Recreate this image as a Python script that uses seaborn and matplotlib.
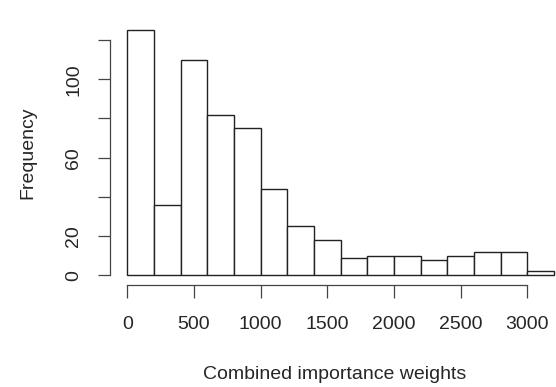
import numpy as np
import pandas as pd
import seaborn as sns
import matplotlib.pyplot as plt

sns.set_theme(style="white")
plt.rcParams["font.family"] = ["Liberation Sans", "DejaVu Sans"]

# histogram of combined importance weights, bin width 200
bin_edges = list(range(0, 3201, 200))
counts = [125, 36, 110, 82, 75, 44, 25, 18, 9, 10, 10, 8, 10, 12, 12, 2]
x_ticks = [0, 500, 1000, 1500, 2000, 2500, 3000]
y_ticks = [0, 20, 40, 60, 80, 100, 120]
y_tick_labels = ["0", "20", "", "60", "", "100", ""]

df = pd.DataFrame({
    "weight": [(a + b) / 2 for a, b in zip(bin_edges[:-1], bin_edges[1:])],
    "count": counts,
})

fig = plt.figure(figsize=(5.56, 3.87), dpi=100)
ax = fig.add_axes([0.1982, 0.2633, 0.829, 0.684])

sns.histplot(data=df, x="weight", weights="count", binwidth=200, binrange=(0, 3200),
             ax=ax, color="white", edgecolor="#222222", linewidth=1.0, alpha=1)

ax.set_xlim(-128, 3328)
ax.set_ylim(-5, 130)

for s in ["top", "right"]:
    ax.spines[s].set_visible(False)
for s in ["left", "bottom"]:
    ax.spines[s].set_color("#444444")
    ax.spines[s].set_linewidth(0.9)
ax.spines["bottom"].set_bounds(0, 3000)
ax.spines["left"].set_bounds(0, 120)

ax.set_xticks(x_ticks)
ax.set_xticklabels([str(v) for v in x_ticks])
ax.set_yticks(y_ticks)
ax.set_yticklabels(y_tick_labels, rotation=90, va="center")
ax.tick_params(axis="both", length=9, width=0.9, color="#444444",
               labelsize=14, direction="out", bottom=True, left=True)
ax.tick_params(axis="x", pad=13)
ax.tick_params(axis="y", pad=11)

ax.set_xlabel("Combined importance weights", fontsize=14)
ax.set_ylabel("Frequency", fontsize=14, labelpad=21)
ax.xaxis.set_label_coords((335 - 110.2) / (571 - 110.2), -0.305)

fig.savefig("out.png", dpi=100)
